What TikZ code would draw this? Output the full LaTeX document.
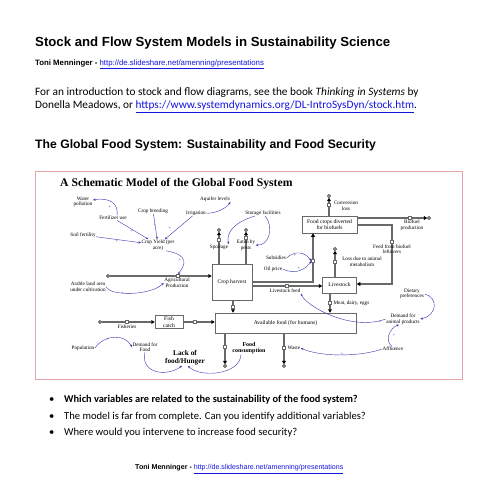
\documentclass[tikz,border=0pt]{standalone}
\usepackage{fontspec}
\setmainfont{Liberation Serif}
\newfontfamily\arialf{Liberation Sans}
\newfontfamily\calibf{Carlito}
\usetikzlibrary{arrows.meta}
\definecolor{linkblue}{RGB}{55,55,175}
\definecolor{urlblue}{RGB}{20,20,225}
\definecolor{framepink}{RGB}{228,165,170}
\definecolor{pipegray}{RGB}{105,105,105}
\newcommand{\ulink}[1]{\textcolor{urlblue}{\underline{#1}}}
\begin{document}
\begin{tikzpicture}[x=1pt,y=-1pt,
  hdr/.style={anchor=west,inner sep=0},
  lbl/.style={font=\fontsize{5.2}{5.6}\selectfont,align=center,inner sep=0.4pt},
  sgn/.style={font=\fontsize{4.5}{4.5}\selectfont,text=linkblue,inner sep=0},
  stockbox/.style={draw=pipegray,fill=white,line width=0.5pt,font=\fontsize{5.6}{6.2}\selectfont,align=center,inner sep=0},
  pipe/.style={draw=pipegray,line width=1.5pt},
  pipearrow/.style={pipe,-{Triangle[length=3.5pt,width=3.8pt,color=black]}},
  valve/.style={draw=pipegray,fill=white,line width=0.4pt,minimum width=3pt,minimum height=3pt,inner sep=0},
  cloudmark/.style={draw=black,circle,minimum size=3pt,inner sep=0,line width=0.4pt,fill=white},
  link/.style={draw=linkblue,line width=0.4pt,-{Stealth[length=2.6pt,width=2.2pt]}},
  body/.style={hdr,font=\calibf\fontsize{11.3}{13}\selectfont},
  qtext/.style={hdr,font=\calibf\fontsize{10.6}{12}\selectfont},
]
\fill[white] (0,0) rectangle (495,495);
\useasboundingbox (0,0) rectangle (495,495);

% ---------- page text ----------
\node[hdr,font=\arialf\bfseries\fontsize{13.2}{15}\selectfont] (title) at (35,43) {Stock and Flow System Models in Sustainability Science};
\node[hdr,font=\arialf\fontsize{7.8}{9}\selectfont] (author) at (35,64) {\textbf{Toni Menninger -} \ulink{http://de.slideshare.net/amenning/presentations}};
\node[body] (intro1) at (35,93) {For an introduction to stock and flow diagrams, see the book \textit{Thinking in Systems} by};
\node[body] (intro2) at (35,107) {Donella Meadows, or \ulink{https://www.systemdynamics.org/DL-IntroSysDyn/stock.htm}.};
\node[hdr,font=\arialf\bfseries\fontsize{12.2}{14}\selectfont] (sub) at (35,145) {The Global Food System: Sustainability and Food Security};

% ---------- frame ----------
\draw[framepink,line width=0.9pt] (35,171) rectangle (462,379);
\node[hdr,font=\bfseries\fontsize{11.7}{13}\selectfont] (dtitle) at (60,184) {A Schematic Model of the Global Food System};

% ---------- stocks ----------
\node[stockbox,minimum width=40pt,minimum height=36pt] (harvest) at (232,282) {Crop harvest};
\node[stockbox,minimum width=55pt,minimum height=17pt] (biobox) at (329.5,224.5) {Food crops diverted\\for biofuels};
\node[stockbox,minimum width=34pt,minimum height=16pt] (livestock) at (339.5,285) {Livestock};
\node[stockbox,minimum width=141pt,minimum height=20pt] (avail) at (285.5,323) {Available food (for humans)};
\node[stockbox,minimum width=28pt,minimum height=13pt] (fish) at (169,322) {Fish\\catch};

% ---------- clouds ----------
\node[cloudmark] (cAg) at (108,276) {};
\node[cloudmark] (cFish) at (100,322) {};
\node[cloudmark] (cSpoil) at (219,230) {};
\node[cloudmark] (cPests) at (246,230) {};
\node[cloudmark] (cConv) at (329,196) {};
\node[cloudmark] (cBio) at (429,218) {};
\node[cloudmark] (cLoss) at (335,249) {};
\node[cloudmark] (cCons) at (225,366) {};
\node[cloudmark] (cWaste) at (284,366) {};

% ---------- pipes ----------
\coordinate (bend1) at (313,282);
\coordinate (lfy) at (287,286);
\coordinate (fb1) at (392,225);
\coordinate (fb2) at (392,284);
\coordinate (mde) at (330,300);
\coordinate (hav) at (233,305);
\draw[pipearrow] (cAg) -- (harvest.west |- cAg);
\draw[pipearrow] (harvest.north -| cSpoil) -- (cSpoil);
\draw[pipearrow] (harvest.north -| cPests) -- (cPests);
\draw[pipearrow] (harvest.east |- bend1) -- (bend1) -- (biobox.south -| bend1);
\draw[pipearrow] (harvest.east |- lfy) -- (livestock.west |- lfy);
\draw[pipearrow] (biobox.north -| cConv) -- (cConv);
\draw[pipearrow] (biobox.east |- cBio) -- (cBio);
\draw[pipearrow] (biobox.east |- fb1) -- (fb1) -- (fb2) -- (livestock.east |- fb2);
\draw[pipearrow] (livestock.north -| cLoss) -- (cLoss);
\draw[pipearrow] (livestock.south -| mde) -- (avail.north -| mde);
\draw[pipearrow] (harvest.south -| hav) -- (avail.north -| hav);
\draw[pipearrow] (cFish) -- (fish.west);
\draw[pipearrow] (fish.east) -- (avail.west |- fish.east);
\draw[pipearrow] (avail.south -| cCons) -- (cCons);
\draw[pipearrow] (avail.south -| cWaste) -- (cWaste);

% ---------- valves ----------
\node[valve] (vAg) at (178,276) {};
\node[valve] (vSpoil) at (219,240) {};
\node[valve] (vPests) at (246,238) {};
\node[valve] (vBio) at (313,261) {};
\node[valve] (vFeed) at (287,286) {};
\node[valve] (vConv) at (329,205) {};
\node[valve] (vBiofuel) at (410,218) {};
\node[valve] (vLeft) at (392,242) {};
\node[valve] (vLoss) at (335,262) {};
\node[valve] (vMeat) at (330,303) {};
\node[valve] (vHarv) at (233,307) {};
\node[valve] (vFisheries) at (127,322) {};
\node[valve] (vCatch) at (195,322) {};
\node[valve] (vCons) at (225,347) {};
\node[valve] (vWaste) at (284,348) {};

% ---------- flow labels ----------
\node[lbl] (lAg) at (177,283) {Agricultural\\Production};
\node[lbl] (lSpoil) at (219,247) {Spoilage};
\node[lbl] (lPests) at (246,245) {Eaten by\\pests};
\node[lbl] (lFeed) at (285,291) {Livestock feed};
\node[lbl] (lConv) at (346,206) {Conversion\\loss};
\node[lbl] (lBiofuel) at (412,225) {Biofuel\\production};
\node[lbl] (lLeft) at (392,249) {Feed from biofuel\\leftovers};
\node[lbl] (lLoss) at (362,262) {Loss due to animal\\metabolism};
\node[lbl,anchor=west] (lMeat) at (333,303) {Meat, dairy, eggs};
\node[lbl] (lFisheries) at (127,327) {Fisheries};
\node[lbl,font=\bfseries\fontsize{6}{6.5}\selectfont] (lCons) at (249,348) {Food\\consumption};
\node[lbl,anchor=west] (lWaste) at (287,348) {Waste};

% ---------- auxiliaries ----------
\node[lbl] (water) at (83,202) {Water\\pollution};
\node[lbl] (fert) at (113,218) {Fertilizer use};
\node[lbl] (breed) at (153,211) {Crop breeding};
\node[lbl] (irrig) at (196,213) {Irrigation};
\node[lbl] (aquifer) at (215,199) {Aquifer levels};
\node[lbl] (soil) at (83,235) {Soil fertility};
\node[lbl] (yield) at (158,245) {Crop Yield (per\\acre)};
\node[lbl] (storage) at (263,213) {Storage facilities};
\node[lbl] (arable) at (88,287) {Arable land area\\under cultivation};
\node[lbl] (subsidies) at (276,258) {Subsidies};
\node[lbl] (oil) at (273,269) {Oil price};
\node[lbl] (dietary) at (412,294) {Dietary\\preferences};
\node[lbl] (demanimal) at (403,319) {Demand for\\animal products};
\node[lbl] (affluence) at (393,349) {Affluence};
\node[lbl] (population) at (83,348) {Population};
\node[lbl] (demfood) at (145,347) {Demand for\\Food};
\node[lbl,font=\bfseries\fontsize{7.3}{7.8}\selectfont] (lack) at (185,358) {Lack of\\food/Hunger};

% ---------- information links ----------
\draw[link] ([xshift=4pt]fert.north) .. controls (119,204) and (110,197) .. ([yshift=2pt]water.east);
\draw[link] (fert) -- (yield);
\draw[link] (breed) -- (yield);
\draw[link] (irrig) -- (yield);
\draw[link] (soil) -- (yield);
\draw[link] (irrig.east) .. controls (212,214) and (225,210) .. (aquifer.south east);
\draw[link] ([xshift=-8pt]storage.south) .. controls (235,222) and (226,232) .. (lSpoil.north east);
\draw[link] ([xshift=2pt]storage.south) .. controls (275,228) and (268,246) .. (lPests.east);
\draw[link] ([xshift=8pt]yield.south) .. controls (190,255) and (185,265) .. (vAg.north);
\draw[link] (arable.east) .. controls (110,296) and (150,296) .. (lAg.west);
\draw[link] (subsidies.east) .. controls (295,250) and (305,252) .. (vBio.west);
\draw[link] (oil.east) .. controls (295,275) and (305,270) .. (vBio.west);
\draw[link] (dietary.east) .. controls (438,297) and (438,315) .. (demanimal.east);
\draw[link] ([xshift=-1pt]affluence.north) .. controls (384,340) and (390,328) .. ([xshift=-4pt]demanimal.south);
\draw[link] (demanimal.west) .. controls (350,332) and (305,305) .. (lFeed.south east);
\draw[link] (affluence.west) .. controls (360,357) and (320,357) .. (lWaste.east);
\draw[link] (population.east) .. controls (105,334) and (125,334) .. (demfood.west);
\draw[link] (demfood.south) .. controls (140,372) and (165,378) .. ([xshift=-3pt]lack.south);
\draw[link] ([xshift=-8pt]lCons.south) .. controls (240,375) and (200,378) .. ([xshift=3pt]lack.south);

% ---------- polarity signs ----------
\node[sgn] (s1) at (110,207) {+};
\node[sgn] (s2) at (132,231) {+};
\node[sgn] (s3) at (155,225) {+};
\node[sgn] (s4) at (170,228) {+};
\node[sgn] (s5) at (117,241) {+};
\node[sgn] (s6) at (180,260) {+};
\node[sgn] (s7) at (123,293) {+};
\node[sgn] (s8) at (295,255) {+};
\node[sgn] (s9) at (299,268) {+};
\node[sgn] (s10) at (108,339) {+};
\node[sgn] (s11) at (342,354) {+};
\node[sgn] (s12) at (394,335) {+};
\node[sgn] (s13) at (380,322) {+};

% ---------- questions ----------
\node[qtext] (b1) at (49,400) {\textbullet};
\node[qtext] (b2) at (49,417) {\textbullet};
\node[qtext] (b3) at (49,433) {\textbullet};
\node[qtext,font=\calibf\bfseries\fontsize{10.4}{12}\selectfont] (q1) at (64,400) {Which variables are related to the sustainability of the food system?};
\node[qtext] (q2) at (64,417) {The model is far from complete. Can you identify additional variables?};
\node[qtext] (q3) at (64,433) {Where would you intervene to increase food security?};

% ---------- footer ----------
\node[hdr,font=\arialf\fontsize{7.1}{8}\selectfont] (foot) at (135,469) {\textbf{Toni Menninger -} \ulink{http://de.slideshare.net/amenning/presentations}};
\end{tikzpicture}
\end{document}
